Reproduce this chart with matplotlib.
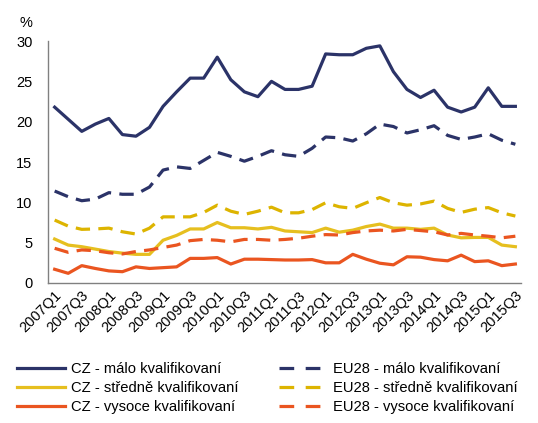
import numpy as np
import matplotlib
matplotlib.use("Agg")
import matplotlib.pyplot as plt

# =============================================================================
# DATA
# =============================================================================
ROKY = range(2007, 2016)
CTVRTLETI = [f"{r}Q{q}" for r in ROKY for q in range(1, 5)][:35]  # 2007Q1 .. 2015Q3

cz_malo = [21.8, 20.3, 18.8, 19.7, 20.4, 18.4, 18.2, 19.3, 21.9, 23.7,
           25.4, 25.4, 28.0, 25.2, 23.7, 23.1, 25.0, 24.0, 24.0, 24.4,
           28.4, 28.3, 28.3, 29.1, 29.4, 26.2, 24.0, 23.0, 23.9, 21.8,
           21.2, 21.8, 24.2, 21.9, 21.9]
eu_malo = [11.4, 10.7, 10.2, 10.4, 11.2, 11.0, 11.0, 11.9, 14.0, 14.4,
           14.2, 15.2, 16.2, 15.7, 15.1, 15.7, 16.4, 15.9, 15.7, 16.7,
           18.1, 18.0, 17.6, 18.5, 19.7, 19.4, 18.6, 19.0, 19.5, 18.3,
           17.8, 18.1, 18.5, 17.7, 17.2]
cz_stredne = [5.45, 4.7, 4.5, 4.2, 3.9, 3.7, 3.55, 3.55, 5.3, 5.9,
              6.7, 6.7, 7.5, 6.85, 6.85, 6.7, 6.9, 6.45, 6.35, 6.25,
              6.8, 6.3, 6.55, 7.0, 7.3, 6.8, 6.8, 6.65, 6.8, 5.95,
              5.6, 5.65, 5.65, 4.7, 4.5]
eu_stredne = [7.8, 7.05, 6.65, 6.7, 6.8, 6.35, 6.07, 6.8, 8.2, 8.2,
              8.2, 8.75, 9.65, 8.9, 8.5, 8.9, 9.4, 8.7, 8.7, 9.1,
              9.95, 9.45, 9.25, 9.95, 10.6, 9.95, 9.65, 9.8, 10.15, 9.25,
              8.75, 9.15, 9.35, 8.7, 8.3]
cz_vysoce = [1.7, 1.2, 2.15, 1.8, 1.5, 1.4, 2.0, 1.8, 1.9, 2.0,
             3.05, 3.05, 3.15, 2.35, 2.95, 2.95, 2.9, 2.85, 2.85, 2.9,
             2.5, 2.5, 3.55, 2.95, 2.45, 2.25, 3.25, 3.2, 2.9, 2.75,
             3.45, 2.65, 2.75, 2.15, 2.35]
eu_vysoce = [4.3, 3.8, 4.1, 4.0, 3.75, 3.6, 3.9, 4.1, 4.4, 4.7,
             5.25, 5.4, 5.3, 5.1, 5.4, 5.4, 5.3, 5.4, 5.55, 5.8,
             6.0, 5.95, 6.25, 6.45, 6.55, 6.45, 6.65, 6.5, 6.35, 5.95,
             6.15, 5.95, 5.8, 5.6, 5.8]

NAVY = "#2B3368"
ZLUTA = "#E6BF1F"
ZLUTA_EU = "#DDB400"
ORANZ = "#EA5520"

plt.rcParams["font.family"] = ["Liberation Sans", "DejaVu Sans"]

# =============================================================================
# GRAF
# =============================================================================
fig = plt.figure(figsize=(5.38, 4.23), dpi=100)
ax = fig.add_axes([0.089, 0.331, 0.879, 0.572])

x = np.arange(len(CTVRTLETI))
lw = 2.3
dash = (4.5, 2.6)

ax.plot(x, cz_malo, color=NAVY, lw=lw, label="CZ - málo kvalifikovaní")
ax.plot(x, cz_stredne, color=ZLUTA, lw=lw, label="CZ - středně kvalifikovaní")
ax.plot(x, cz_vysoce, color=ORANZ, lw=lw, label="CZ - vysoce kvalifikovaní")
ax.plot(x, eu_malo, color=NAVY, lw=lw, dashes=dash, label="EU28 - málo kvalifikovaní")
ax.plot(x, eu_stredne, color=ZLUTA_EU, lw=lw, dashes=dash, label="EU28 - středně kvalifikovaní")
ax.plot(x, eu_vysoce, color=ORANZ, lw=lw, dashes=dash, label="EU28 - vysoce kvalifikovaní")

ax.set_ylim(0, 30)
ax.set_xlim(-0.5, 34.4)
ax.set_yticks(range(0, 31, 5))
ax.set_xticks(x[::2])
ax.set_xticklabels(CTVRTLETI[::2], rotation=45, ha="right", rotation_mode="anchor",
                   fontsize=10.5)
ax.tick_params(axis="y", labelsize=10.5, length=0, pad=11)
ax.tick_params(axis="x", length=0, pad=4)
for s in ["top", "right"]:
    ax.spines[s].set_visible(False)
for s in ["left", "bottom"]:
    ax.spines[s].set_color("#808080")
    ax.spines[s].set_linewidth(1.0)

fig.text(0.036, 0.935, "%", fontsize=10.5)

leg = ax.legend(loc="upper left", bbox_to_anchor=(-0.078, -0.302), ncol=2, frameon=False,
                fontsize=10.6, handlelength=3.3, handletextpad=0.35, columnspacing=2.8,
                labelspacing=0.35, borderaxespad=0)
for h in leg.get_lines()[3:]:
    h.set_dashes((4.6, 3.6))

fig.savefig("out.png", dpi=100)
